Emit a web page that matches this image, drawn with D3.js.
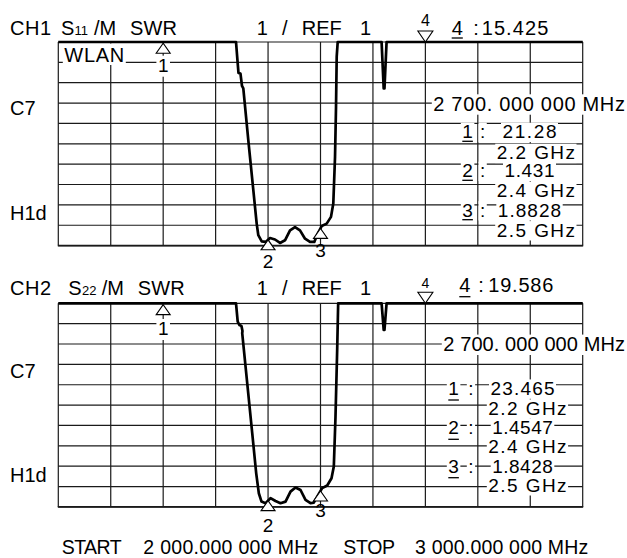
<!DOCTYPE html>
<html><head><meta charset="utf-8">
<script src="https://cdn.jsdelivr.net/npm/d3@7"></script>
<style>
html,body{margin:0;padding:0;background:#fff;}
svg{display:block;}
text{font-family:"Liberation Sans",Arial,sans-serif;fill:#000;}
</style></head>
<body>
<svg id="c" width="627" height="558"></svg>
<script>
// ---------- data ----------
const freqStart = 2000, freqStop = 3000;           // MHz
const gridFreqs = d3.range(2000, 3001, 100);       // 10 divisions
const gridSwr = d3.range(1, 12, 1);                // 1 / div, REF 1
// CH1 S11 trace (SWR, top of scale = 11 or more)
const ch1Freq = [2000, 2338.9, 2342.1, 2343.6, 2347.4, 2350.3, 2352.8, 2362.3, 2371.9, 2378.3, 2381.4, 2387.9, 2395.5, 2403.7, 2413.2, 2422.8, 2432.3, 2441.9, 2451.4, 2460.9, 2470.5, 2480.0, 2488.2, 2494.7, 2502.3, 2511.8, 2520.0, 2524.4, 2527.7, 2529.6, 2530.9, 2532.8, 2616.5, 2620.5, 2622.0, 2626.0, 3000];
const ch1Swr  = [11, 11, 9.95, 9.48, 9.45, 8.84, 8.72, 6.18, 3.72, 2.08, 1.51, 1.21, 1.18, 1.37, 1.30, 1.13, 1.26, 1.75, 1.91, 1.75, 1.34, 1.18, 1.18, 1.59, 1.96, 2.08, 2.41, 3.07, 5.36, 7.82, 10.28, 11, 11, 8.72, 8.72, 11, 11];
// CH2 S22 trace
const ch2Freq = [2000, 2338.9, 2342.1, 2345.5, 2349.3, 2351.2, 2350.7, 2360.3, 2369.8, 2377.4, 2382.4, 2387.5, 2395.2, 2404.7, 2414.2, 2423.7, 2433.3, 2442.8, 2452.3, 2461.9, 2471.4, 2480.9, 2487.2, 2495.6, 2503.2, 2512.8, 2521.0, 2525.4, 2528.6, 2531.8, 2533.7, 2616.5, 2620.5, 2622.0, 2626.0, 3000];
const ch2Swr  = [11, 11, 10.10, 9.93, 9.89, 9.64, 9.53, 7.07, 4.62, 2.65, 1.67, 1.26, 1.18, 1.43, 1.29, 1.18, 1.26, 1.75, 1.95, 1.83, 1.34, 1.18, 1.21, 1.59, 1.92, 2.05, 2.41, 2.98, 5.43, 8.71, 11, 11, 9.69, 9.69, 11, 11];
// markers
const markerFreq = [2200, 2400, 2500];
const marker4Freq = 2700;
const markerNames = ["1", "2", "3"];
const markerFreqLabels = ["2.2 GHz", "2.4 GHz", "2.5 GHz"];
const ch1MarkerVals = ["21.28", "1.431", "1.8828"];
const ch2MarkerVals = ["23.465", "1.4547", "1.8428"];
const ch1Marker4Val = "15.425";
const ch2Marker4Val = "19.586";
const centerFreqText = "2 700. 000 000 MHz";
const startText = "2 000.000 000 MHz";
const stopText = "3 000.000 000 MHz";

// ---------- drawing ----------
const svg = d3.select("#c");
const x = d3.scaleLinear().domain([freqStart, freqStop]).range([58.3, 582.7]);
const FS = 20;

function txt(g, str, px, py, o = {}) {
  const fs = o.fs || FS;
  const t = g.append("text").attr("x", px).attr("y", py)
    .attr("font-size", fs).attr("text-anchor", o.anchor || "start").text(str);
  if (o.len) t.attr("textLength", o.len).attr("lengthAdjust", "spacing");
  const bb = t.node().getBBox();
  if (o.bg) {
    const top = o.bgTop != null ? o.bgTop : py - fs * 0.82;
    const bot = o.bgBot != null ? o.bgBot : py + fs * 0.2;
    g.insert("rect", () => t.node())
      .attr("x", bb.x - 1.5).attr("width", bb.width + 3)
      .attr("y", top).attr("height", bot - top).attr("fill", "#fff");
  }
  if (o.ul) {
    g.append("line").attr("x1", bb.x).attr("x2", bb.x + bb.width)
      .attr("y1", py + o.ul).attr("y2", py + o.ul)
      .attr("stroke", "#000").attr("stroke-width", 1.3);
  }
  return t;
}

function panel(cfg) {
  const y = d3.scaleLinear().domain([1, 11]).range([cfg.y0 + 203.6, cfg.y0]).clamp(true);
  const g = svg.append("g");
  const grid = g.append("g").attr("stroke", "#1a1a1a").attr("stroke-width", 1.2);
  gridFreqs.forEach(f => grid.append("line").attr("x1", x(f)).attr("x2", x(f)).attr("y1", y(1)).attr("y2", y(11)));
  gridSwr.forEach(s => grid.append("line").attr("x1", x(freqStart)).attr("x2", x(freqStop)).attr("y1", y(s)).attr("y2", y(s)));
  g.append("line").attr("x1", x(freqStart) - 0.5).attr("x2", x(freqStop) + 0.5).attr("y1", y(1)).attr("y2", y(1))
    .attr("stroke", "#1a1a1a").attr("stroke-width", 1.6);

  // header
  const hb = cfg.hb;
  txt(g, cfg.ch, 10, hb, {len: 41});
  txt(g, "S", cfg.sx, hb);
  txt(g, cfg.sub, cfg.subx, hb, {fs: 13});
  txt(g, "/M", cfg.mx, hb);
  txt(g, "SWR", cfg.swrx, hb, {len: 47});
  txt(g, "1", 256.7, hb);
  txt(g, "/", 282, hb);
  txt(g, "REF", 301.7, hb);
  txt(g, "1", 360, hb);
  txt(g, "C7", 10, cfg.c7);
  txt(g, "H1d", 10, cfg.h1d);

  // marker 4 readout
  txt(g, "4", cfg.m4x, cfg.m4b, {ul: cfg.ul});
  txt(g, ":", cfg.m4c, cfg.m4b);
  txt(g, cfg.m4val, cfg.m4v, cfg.m4b, {len: cfg.m4len});

  // texts inside the grid
  if (cfg.wlan) txt(g, "WLAN", 64.3, cfg.y0 + 19.7, {bg: true, len: 60, bgTop: cfg.y0 + 1.5, bgBot: cfg.y0 + 23});
  txt(g, centerFreqText, cfg.cfx, cfg.cfb, {bg: true, len: cfg.cflen});
  const LF = 19;
  markerNames.forEach((m, i) => {
    const b1 = cfg.listB[2 * i], b2 = cfg.listB[2 * i + 1];
    txt(g, m, cfg.nx, b1, {fs: LF, bg: true, ul: cfg.ul});
    txt(g, ":", cfg.cx, b1, {fs: LF, bg: true});
    txt(g, cfg.vals[i], cfg.vcx, b1, {fs: LF, bg: true, anchor: "middle", len: cfg.vlen[i]});
    txt(g, markerFreqLabels[i], cfg.gx, b2, {fs: LF, bg: true, len: 78.3});
  });

  // trace
  const line = d3.line().x(d => x(d[0])).y(d => y(d[1]));
  g.append("path").datum(cfg.freq.map((f, i) => [f, cfg.swr[i]]))
    .attr("d", line).attr("fill", "none").attr("stroke", "#000")
    .attr("stroke-width", 2.7).attr("stroke-linejoin", "round");

  // markers 1-3 (up triangles with label below)
  const interp = d3.scaleLinear().domain(cfg.freq).range(cfg.swr);
  markerFreq.forEach((f, i) => {
    const val = Math.min(11, interp(f));
    const xm = x(f), ym = y(val) + (i === 0 ? 1.3 : 0);
    g.append("path").attr("d", `M${xm},${ym} L${xm - 7},${ym + 10} L${xm + 7},${ym + 10} Z`)
      .attr("fill", "#fff").attr("stroke", "#000").attr("stroke-width", 1.1);
    txt(g, markerNames[i], xm, cfg.mlb[i], {anchor: "middle", fs: 19, bg: i === 0,
      bgTop: cfg.mlb[i] - 16, bgBot: cfg.mlb[i] + 5});
  });
  // marker 4 (down triangle above the grid)
  const x4 = x(marker4Freq);
  g.append("path").attr("d", `M${x4},${cfg.y0} L${x4 - 7.5},${cfg.y0 - 11} L${x4 + 7.5},${cfg.y0 - 11} Z`)
    .attr("fill", "#fff").attr("stroke", "#000").attr("stroke-width", 1.1);
  txt(g, "4", x4, cfg.m4lb, {anchor: "middle", fs: cfg.m4fs});
}

panel({
  y0: 42, hb: 35, ch: "CH1", sub: "11", sx: 61, subx: 74.5, mx: 94, swrx: 130,
  c7: 115, h1d: 220, m4x: 451.7, m4c: 473.3, m4v: 481.7, m4b: 35, m4val: ch1Marker4Val, m4len: 66.6,
  m4lb: 26, m4fs: 16, ul: 3, wlan: true, cfx: 433.3, cfb: 110.7, cflen: 191.7,
  nx: 462.3, cx: 480, vcx: 529.5, gx: 496.7, listB: [138.3, 159.3, 177.3, 197.3, 216.7, 236.7],
  vals: ch1MarkerVals, vlen: [54, 50, 63.4], mlb: [71.7, 268.3, 256.7], freq: ch1Freq, swr: ch1Swr
});
panel({
  y0: 303.3, hb: 295, ch: "CH2", sub: "22", sx: 68.3, subx: 82, mx: 101.7, swrx: 137.7,
  c7: 378.3, h1d: 481.7, m4x: 459.3, m4c: 478.3, m4v: 488.3, m4b: 291.7, m4val: ch2Marker4Val, m4len: 65,
  m4lb: 287.7, m4fs: 14, ul: 5, wlan: false, cfx: 443.3, cfb: 351, cflen: 181.7,
  nx: 448.3, cx: 468.3, vcx: 522.5, gx: 488.3, listB: [395, 415, 434.3, 453.3, 472.7, 491.7],
  vals: ch2MarkerVals, vlen: [64, 60.6, 60.6], mlb: [335, 531.7, 517.3], freq: ch2Freq, swr: ch2Swr
});

// footer
const foot = svg.append("g");
txt(foot, "START", 61.7, 554, {fs: 19.5, len: 60});
txt(foot, startText, 143.3, 554, {fs: 19.5, len: 175});
txt(foot, "STOP", 343.3, 554, {fs: 19.5, len: 51.7});
txt(foot, stopText, 415, 554, {fs: 19.5, len: 173.3});
</script>
</body></html>
